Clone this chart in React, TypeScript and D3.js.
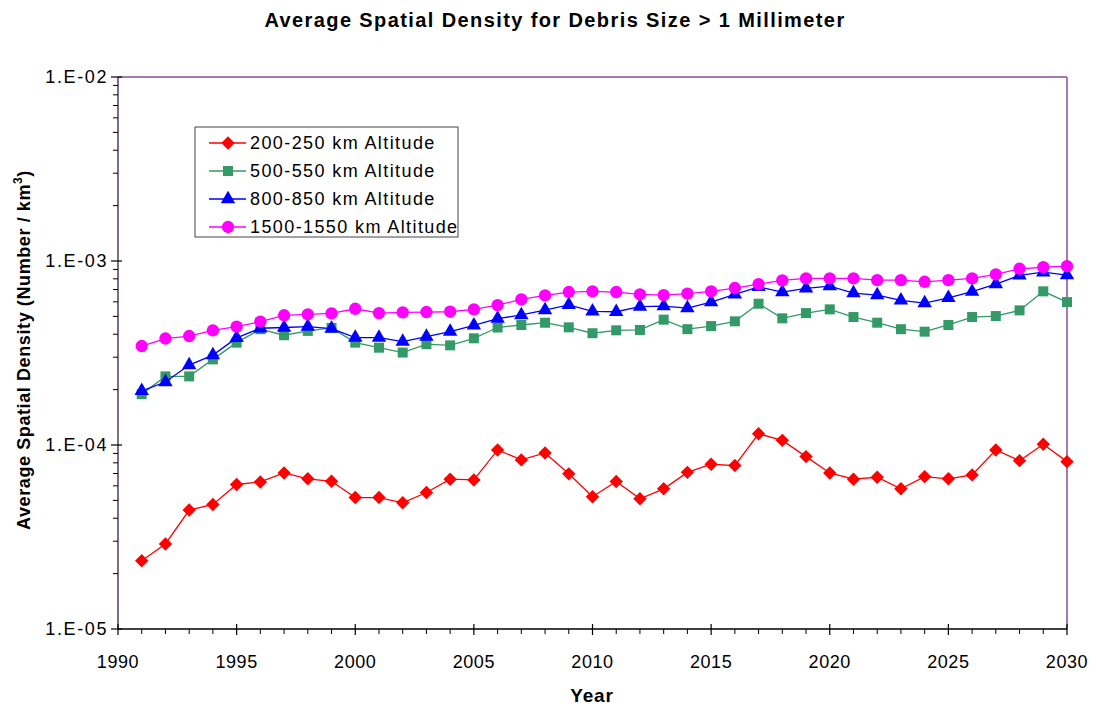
import React from "react";
import * as d3 from "d3";

const years = d3.range(1991, 2031);

const alt200 = [2.35e-5, 2.9e-5, 4.43e-5, 4.75e-5, 6.1e-5, 6.3e-5, 7.05e-5, 6.55e-5, 6.35e-5, 5.18e-5,
  5.18e-5, 4.85e-5, 5.52e-5, 6.52e-5, 6.46e-5, 9.4e-5, 8.3e-5, 9.05e-5, 6.97e-5, 5.23e-5,
  6.33e-5, 5.1e-5, 5.78e-5, 7.1e-5, 7.86e-5, 7.73e-5, 1.15e-4, 1.06e-4, 8.65e-5, 7.05e-5,
  6.52e-5, 6.68e-5, 5.78e-5, 6.73e-5, 6.55e-5, 6.88e-5, 9.4e-5, 8.22e-5, 1.01e-4, 8.12e-5];
const alt500 = [1.89e-4, 2.36e-4, 2.36e-4, 2.92e-4, 3.6e-4, 4.26e-4, 3.95e-4, 4.17e-4, 4.33e-4, 3.6e-4,
  3.38e-4, 3.18e-4, 3.53e-4, 3.48e-4, 3.8e-4, 4.35e-4, 4.49e-4, 4.62e-4, 4.36e-4, 4.05e-4,
  4.2e-4, 4.22e-4, 4.8e-4, 4.26e-4, 4.43e-4, 4.7e-4, 5.86e-4, 4.88e-4, 5.21e-4, 5.46e-4,
  4.96e-4, 4.62e-4, 4.26e-4, 4.13e-4, 4.49e-4, 4.96e-4, 5.02e-4, 5.39e-4, 6.84e-4, 5.98e-4];
const alt800 = [1.97e-4, 2.2e-4, 2.72e-4, 3.08e-4, 3.82e-4, 4.31e-4, 4.35e-4, 4.4e-4, 4.29e-4, 3.83e-4,
  3.83e-4, 3.65e-4, 3.88e-4, 4.13e-4, 4.47e-4, 4.86e-4, 5.09e-4, 5.41e-4, 5.78e-4, 5.32e-4,
  5.3e-4, 5.65e-4, 5.69e-4, 5.55e-4, 5.98e-4, 6.58e-4, 7.24e-4, 6.78e-4, 7.1e-4, 7.3e-4,
  6.69e-4, 6.53e-4, 6.11e-4, 5.9e-4, 6.31e-4, 6.81e-4, 7.49e-4, 8.35e-4, 8.69e-4, 8.38e-4];
const alt1500 = [3.45e-4, 3.79e-4, 3.91e-4, 4.2e-4, 4.4e-4, 4.68e-4, 5.07e-4, 5.13e-4, 5.19e-4, 5.5e-4,
  5.21e-4, 5.26e-4, 5.28e-4, 5.3e-4, 5.46e-4, 5.76e-4, 6.18e-4, 6.5e-4, 6.78e-4, 6.84e-4,
  6.78e-4, 6.58e-4, 6.53e-4, 6.64e-4, 6.84e-4, 7.13e-4, 7.49e-4, 7.84e-4, 8.04e-4, 8.04e-4,
  8.04e-4, 7.87e-4, 7.87e-4, 7.71e-4, 7.87e-4, 8.04e-4, 8.45e-4, 9.07e-4, 9.25e-4, 9.37e-4];

const seriesNames = ["200-250 km Altitude", "500-550 km Altitude", "800-850 km Altitude", "1500-1550 km Altitude"];
const seriesValues = [alt200, alt500, alt800, alt1500];
const seriesColors = ["#ff0000", "#339966", "#0000ff", "#ff00ff"];

const squareDiamond = {
  draw(ctx: any, size: number) {
    const r = Math.sqrt(size / 2);
    ctx.moveTo(0, -r);
    ctx.lineTo(r, 0);
    ctx.lineTo(0, r);
    ctx.lineTo(-r, 0);
    ctx.closePath();
  },
};
const seriesSymbols: any[] = [squareDiamond, d3.symbolSquare, d3.symbolTriangle, d3.symbolCircle];
const symbolSizes = [90, 100, 90, 120];

const xTicks = [1990, 1995, 2000, 2005, 2010, 2015, 2020, 2025, 2030];
const yTicks = [1e-5, 1e-4, 1e-3, 1e-2];
const yTickLabels = ["1.E-05", "1.E-04", "1.E-03", "1.E-02"];

const W = 1098, H = 708;
const L = 118, R = 1067, T = 77, B = 629;
const FONT = "'Liberation Sans', Arial, sans-serif";

export default function App() {
  const x = d3.scaleLinear().domain([1990, 2030]).range([L, R]);
  const y = d3.scaleLog().domain([1e-5, 1e-2]).range([B, T]);
  const line = d3.line<number>().x((_, i) => x(years[i])).y((v) => y(v));

  const minorX = d3.range(1990, 2031).filter((v) => v % 5 !== 0);
  const minorY: number[] = [];
  for (let e = -5; e < -2; e++) for (let m = 2; m <= 9; m++) minorY.push(m * Math.pow(10, e));

  const legendX = 195, legendY = 127;
  return (
    <svg width={W} height={H} style={{ position: "absolute", left: 0, top: 0, background: "#fff" }}>
      <text x={555} y={27} textAnchor="middle" fontFamily={FONT} fontWeight="bold" fontSize={20} letterSpacing={1.4}>
        Average Spatial Density for Debris Size &gt; 1 Millimeter
      </text>
      {/* plot frame */}
      <line x1={L} y1={T} x2={R} y2={T} stroke="#a57aae" strokeWidth={2} />
      <line x1={R} y1={T} x2={R} y2={B} stroke="#a57aae" strokeWidth={2} />
      <line x1={L} y1={T} x2={L} y2={B} stroke="#5a3b63" strokeWidth={1.5} />
      <line x1={L} y1={B} x2={R} y2={B} stroke="#000" strokeWidth={1.5} />
      {/* y ticks */}
      {yTicks.map((t, i) => (
        <g key={"yt" + i}>
          <line x1={L - 7} x2={L + 4} y1={y(t)} y2={y(t)} stroke="#000" strokeWidth={1.2} />
          <text x={L - 10} y={y(t) + 6} textAnchor="end" fontFamily={FONT} fontSize={18} letterSpacing={1.6}>{yTickLabels[i]}</text>
        </g>
      ))}
      {minorY.map((t, i) => (
        <line key={"ym" + i} x1={L - 5} x2={L} y1={y(t)} y2={y(t)} stroke="#000" strokeWidth={1} />
      ))}
      {/* x ticks */}
      {xTicks.map((t) => (
        <g key={"xt" + t}>
          <line x1={x(t)} x2={x(t)} y1={B - 5} y2={B + 6} stroke="#000" strokeWidth={1.2} />
          <text x={x(t)} y={B + 39} textAnchor="middle" fontFamily={FONT} fontSize={18} letterSpacing={0.6}>{t}</text>
        </g>
      ))}
      {minorX.map((t) => (
        <line key={"xm" + t} x1={x(t)} x2={x(t)} y1={B} y2={B + 5} stroke="#000" strokeWidth={1} />
      ))}
      <text x={592} y={702} textAnchor="middle" fontFamily={FONT} fontWeight="bold" fontSize={19} letterSpacing={0.8}>Year</text>
      <text transform={`translate(30,350) rotate(-90)`} textAnchor="middle" fontFamily={FONT} fontWeight="bold" fontSize={18} letterSpacing={0.6}>
        Average Spatial Density (Number / km<tspan dy={-8} fontSize={12}>3</tspan><tspan dy={8}>)</tspan>
      </text>
      {/* series */}
      {seriesValues.map((vals, s) => (
        <g key={"s" + s}>
          <path d={line(vals) || ""} fill="none" stroke={seriesColors[s]} strokeWidth={1.3} />
          {vals.map((v, i) => (
            <path key={i} d={d3.symbol(seriesSymbols[s], symbolSizes[s])() || ""}
              transform={`translate(${x(years[i])},${y(v)})`} fill={seriesColors[s]} />
          ))}
        </g>
      ))}
      {/* legend */}
      <rect x={legendX} y={legendY} width={263} height={110} fill="#fff" stroke="#444" strokeWidth={1} />
      {seriesNames.map((n, s) => {
        const ly = legendY + 16 + s * 28;
        return (
          <g key={"lg" + s}>
            <line x1={209} x2={246} y1={ly} y2={ly} stroke={seriesColors[s]} strokeWidth={1.3} />
            <path d={d3.symbol(seriesSymbols[s], symbolSizes[s])() || ""} transform={`translate(228,${ly})`} fill={seriesColors[s]} />
            <text x={250} y={ly + 6} fontFamily={FONT} fontSize={18} letterSpacing={1.4}>{n}</text>
          </g>
        );
      })}
    </svg>
  );
}
